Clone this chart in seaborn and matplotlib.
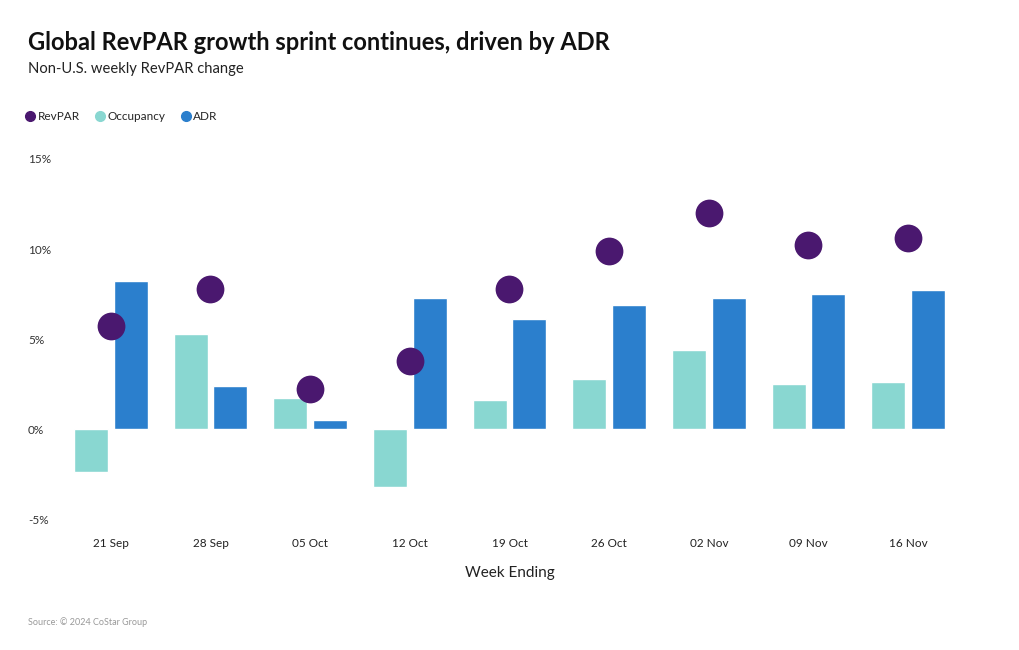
import matplotlib
matplotlib.use("Agg")
import matplotlib.pyplot as plt
from matplotlib.lines import Line2D
import seaborn as sns
import pandas as pd

weeks = ["21 Sep", "28 Sep", "05 Oct", "12 Oct", "19 Oct", "26 Oct", "02 Nov", "09 Nov", "16 Nov"]
revpar = [5.7, 7.8, 2.2, 3.8, 7.8, 9.9, 12.0, 10.2, 10.6]
occupancy = [-2.4, 5.3, 1.7, -3.2, 1.6, 2.8, 4.4, 2.5, 2.6]
adr = [8.2, 2.4, 0.5, 7.3, 6.1, 6.9, 7.3, 7.5, 7.7]
y_ticks = [-5, 0, 5, 10, 15]
y_labels = ["-5%", "0%", "5%", "10%", "15%"]

C_REV = "#4a186f"
C_OCC = "#89d7d1"
C_ADR = "#2b7fcd"

sns.set_theme(style="white")
plt.rcParams["font.family"] = ["Lato", "DejaVu Sans"]

bars = pd.DataFrame({
    "week": weeks * 2,
    "value": occupancy + adr,
    "metric": ["Occupancy"] * len(weeks) + ["ADR"] * len(weeks),
})
dots = pd.DataFrame({"week": weeks, "value": revpar})

fig = plt.figure(figsize=(10.2, 6.5), dpi=100)
ax = fig.add_axes([61 / 1020, 1 - 519 / 650, (958 - 61) / 1020, 360 / 650])

sns.barplot(data=bars, x="week", y="value", hue="metric", order=weeks,
            hue_order=["Occupancy", "ADR"], palette=[C_OCC, C_ADR],
            width=0.8, gap=0.15, saturation=1, ax=ax, legend=False)
sns.stripplot(data=dots, x="week", y="value", order=weeks, jitter=False,
              color=C_REV, size=20, linewidth=0, ax=ax, zorder=5)

ax.set_xlim(-0.5, len(weeks) - 0.5)
ax.set_ylim(-5, 15)
ax.set_yticks(y_ticks)
ax.set_yticklabels(y_labels)
for lab in ax.get_yticklabels():
    lab.set_horizontalalignment("left")
ax.tick_params(axis="y", length=0, pad=(61 - 28) * 0.72, labelsize=8.5, labelcolor="#333333")
ax.tick_params(axis="x", length=0, pad=14, labelsize=8.5, labelcolor="#222222")
ax.set_ylabel("")
ax.set_xlabel("Week Ending", fontsize=11, color="#222222", labelpad=12)
for s in ax.spines.values():
    s.set_visible(False)

fig.text(28 / 1020, 1 - 43 / 650, "Global RevPAR growth sprint continues, driven by ADR",
         fontsize=17, fontweight="bold", color="#111111", va="center", ha="left")
fig.text(28 / 1020, 1 - 69 / 650, "Non-U.S. weekly RevPAR change",
         fontsize=10.6, color="#222222", va="center", ha="left")
fig.text(28 / 1020, 1 - 622 / 650, "Source: © 2024 CoStar Group",
         fontsize=6.5, color="#999999", va="center", ha="left")

handles = [Line2D([], [], marker="o", linestyle="", color=c, markersize=7)
           for c in [C_REV, C_OCC, C_ADR]]
fig.legend(handles, ["RevPAR", "Occupancy", "ADR"], loc="center left",
           bbox_to_anchor=(25 / 1020, 1 - 117 / 650), ncol=3, frameon=False,
           fontsize=8.5, handletextpad=0.15, columnspacing=1.3, handlelength=0.9,
           borderaxespad=0, borderpad=0)

fig.savefig("out.png", dpi=100)
